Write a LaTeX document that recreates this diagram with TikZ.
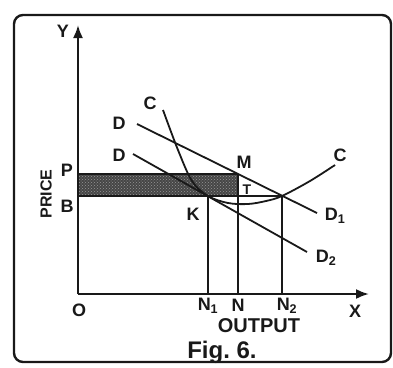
\documentclass[tikz,border=0pt]{standalone}
\usepackage{fontspec}
\setmainfont{Liberation Sans}
\usetikzlibrary{arrows.meta, positioning, patterns}
\definecolor{figink}{RGB}{25,25,25}
\definecolor{figshade}{RGB}{70,70,70}
\definecolor{figdots}{RGB}{150,150,150}

\begin{document}
\begin{tikzpicture}[x=1pt, y=-1pt, figink, line width=1.8pt,
    font=\fontsize{18}{20}\selectfont\bfseries,
    axis/.style={line width=2.2pt, -{Latex[length=13pt, width=10pt]}},
    lbl/.style={inner sep=0pt}]
  \useasboundingbox (0,0) rectangle (393,367);
  \draw[line width=2.4pt, rounded corners=9pt] (14,15) rectangle (391,362);

  % points of the diagram
  \coordinate (O) at (78,294);
  \coordinate (Ytip) at (78,25);
  \coordinate (Xtip) at (369,294);
  \coordinate (P) at (78,174);
  \coordinate (B) at (78,196);
  \coordinate (M) at (238,174);
  \coordinate (K) at (208,196);
  \coordinate (E) at (282,196);
  \foreach \nm/\x in {N1/208, N/238, N2/282}
    \coordinate (\nm) at (\x,294);
  \coordinate (D1a) at (137,124);
  \coordinate (D1b) at (317,213);
  \coordinate (D2a) at (133,154);
  \coordinate (D2b) at (307,252);

  % shaded profit area
  \fill[figshade] (P) rectangle (M |- B);
  \fill[pattern=crosshatch dots, pattern color=figdots] (P) rectangle (M |- B);

  \draw (P) -- (M);
  \draw (B) -- (E);
  \draw (N1) -- (K);
  \draw (N) -- (M);
  \draw (N2) -- (E);
  \draw (D1a) -- (D1b);
  \draw (D2a) -- (D2b);
  \draw plot[smooth, tension=0.55] coordinates {(163,110) (178,150) (192,181)
    (208,196) (228,203) (248,204) (266,201) (282,196) (310,181) (335,165)};

  \draw[axis] (O) -- (Ytip);
  \draw[axis] (O) -- (Xtip);

  % labels
  \node[lbl] (lblY) at (63,31) {Y};
  \node[lbl] (lblX) at (355,311) {X};
  \node[lbl] (lblO) at (79,310) {O};
  \node[lbl] (lblP) at (67,170) {P};
  \node[lbl] (lblB) at (67,206) {B};
  \node[lbl, rotate=90, font=\fontsize{16}{18}\selectfont\bfseries] (lblPrice) at (46,194) {PRICE};
  \node[lbl] (lblDa) at (119,123) {D};
  \node[lbl] (lblDb) at (119,155) {D};
  \node[lbl] (lblCa) at (150,103) {C};
  \node[lbl] (lblCb) at (340,155) {C};
  \node[lbl] (lblM) at (244,162) {M};
  \node[lbl, font=\fontsize{14}{16}\selectfont\bfseries] (lblT) at (247,190) {T};
  \node[lbl] (lblK) at (193,214) {K};
  \node[lbl] (lblD1) at (335,216) {D\textsubscript{1}};
  \node[lbl] (lblD2) at (326,258) {D\textsubscript{2}};
  \node[lbl] (lblN1) at (208,306) {N\textsubscript{1}};
  \node[lbl] (lblN) at (238,305) {N};
  \node[lbl] (lblN2) at (287,306) {N\textsubscript{2}};
  \node[lbl, font=\fontsize{20}{22}\selectfont\bfseries] (lblOut) at (259,326) {OUTPUT};
  \node[lbl, font=\fontsize{24}{26}\selectfont\bfseries] (lblFig) at (222,352) {Fig.\ 6.};
\end{tikzpicture}
\end{document}
